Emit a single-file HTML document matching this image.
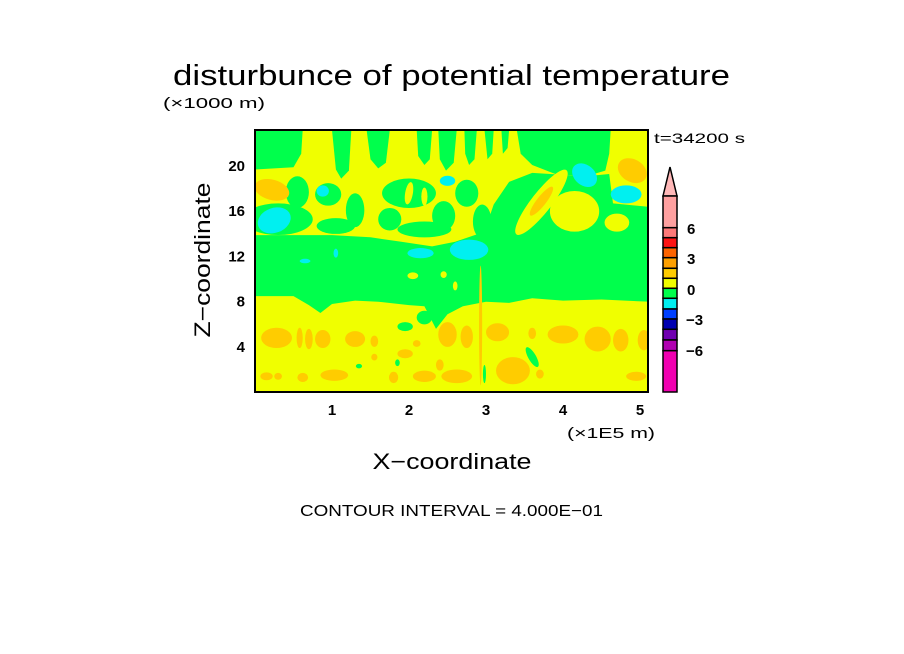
<!DOCTYPE html>
<html><head><meta charset="utf-8"><style>
html,body{margin:0;padding:0;background:#fff;width:904px;height:654px;overflow:hidden}
svg{display:block}
text{font-family:"Liberation Sans",sans-serif;fill:#000}
</style></head><body>
<svg id="chart" width="904" height="654" viewBox="0 0 904 654">
<text x="173" y="85" font-size="29" textLength="557" lengthAdjust="spacingAndGlyphs">disturbunce of potential temperature</text>
<text x="163" y="108" font-size="15" textLength="102" lengthAdjust="spacingAndGlyphs">(×1000 m)</text>
<text x="654" y="143" font-size="14" textLength="91" lengthAdjust="spacingAndGlyphs">t=34200 s</text>
<text transform="translate(210,260) rotate(-90)" text-anchor="middle" font-size="22" textLength="155" lengthAdjust="spacingAndGlyphs">Z−coordinate</text>
<text x="452" y="469" text-anchor="middle" font-size="22" textLength="159" lengthAdjust="spacingAndGlyphs">X−coordinate</text>
<text x="567" y="438" font-size="15" textLength="88" lengthAdjust="spacingAndGlyphs">(×1E5 m)</text>
<text x="300" y="516" font-size="16" textLength="303" lengthAdjust="spacingAndGlyphs">CONTOUR INTERVAL = 4.000E−01</text>
<defs><clipPath id="pc"><rect x="255" y="130" width="393" height="262"/></clipPath></defs>
<g id="field" clip-path="url(#pc)"></g>
<rect x="255" y="130" width="393" height="262" fill="none" stroke="#000" stroke-width="2"/>
<g id="ticks"></g>
<g id="cbar"></g>
</svg>
<script>
const xTicks=[1,2,3,4,5];
const zTicks=[4,8,12,16,20];
const cbarLabels=[6,3,0,-3,-6];
const cbarColors=["#ffa0a0","#ff7878","#ff1414","#ff6400","#ffa000","#ffcc00","#f0ff00","#00ff4c","#00f0f0","#0040ff","#0000b0","#7000b0","#b000b0","#f000b0"];
const C={y:"#f0ff00",g:"#00ff4c",o:"#ffcc00",c:"#00f0f0"};
const greenPolys=[
[[0,8.4],[0.5,8.4],[0.7,7.6],[0.85,6.9],[1.0,7.7],[1.3,8.0],[1.6,7.9],[2.0,7.6],[2.2,7.5],[2.35,5.5],[2.5,6.8],[2.7,7.5],[3.0,7.9],[3.3,7.8],[3.6,8.2],[4.0,8.0],[4.5,8.1],[5.11,7.9],[5.11,13.9],[2.9,13.9],[2.6,13.2],[2.3,12.8],[1.9,13.2],[1.5,13.6],[1.0,13.8],[0,13.8]],
[[0,23.1],[0.62,23.1],[0.6,21],[0.5,19.8],[0,19.6]],
[[1.0,23.1],[1.25,23.1],[1.22,19.5],[1.12,18.8],[1.05,19.6]],
[[1.45,23.1],[1.75,23.1],[1.7,20.2],[1.6,19.7],[1.5,20.5]],
[[2.1,23.1],[2.3,23.1],[2.27,20.5],[2.2,20],[2.12,20.8]],
[[2.38,23.1],[2.62,23.1],[2.58,20.2],[2.48,19.5],[2.4,20.5]],
[[2.72,23.1],[2.88,23.1],[2.85,20.5],[2.78,20.0],[2.73,21]],
[[2.98,23.1],[3.1,23.1],[3.08,21],[3.02,20.5]],
[[3.2,23.1],[3.3,23.1],[3.28,21.5],[3.22,21]],
[[3.4,23.1],[4.62,23.1],[4.6,21],[4.55,19.5],[4.3,19.0],[3.9,19.2],[3.6,20],[3.45,21]],
[[2.95,13.5],[5.11,13.5],[5.11,16.3],[4.65,16.6],[4.6,19.2],[4.3,19.0],[3.6,19.3],[3.3,18.5],[3.1,16.5]]
];
// blobs: [x, z, rx, rz, rotation, colour]
const blobs=[
[0.3,15.2,0.45,1.4,0,"g"],[0.55,17.6,0.15,1.4,0,"g"],[0.95,17.4,0.17,1.0,0,"g"],[1.3,16.0,0.12,1.5,0,"g"],
[2.0,17.5,0.35,1.3,0,"g"],[2.75,17.5,0.15,1.2,0,"g"],[2.45,15.5,0.15,1.3,0,"g"],[1.75,15.2,0.15,1.0,0,"g"],[2.95,15.0,0.12,1.5,0,"g"],
[1.05,14.6,0.25,0.7,0,"g"],[2.2,14.3,0.35,0.7,0,"g"],
[2.0,17.5,0.05,1.0,10,"y"],[2.2,17.2,0.04,0.8,0,"y"],
[3.72,16.7,0.13,3.6,38,"y"],[3.72,16.8,0.06,1.6,38,"o"],[4.15,15.9,0.32,1.8,0,"y"],[4.7,14.9,0.16,0.8,0,"y"],
[4.9,19.5,0.2,1.0,30,"o"],[4.82,17.4,0.2,0.8,0,"c"],[4.28,19.1,0.18,0.9,40,"c"],
[0.22,17.8,0.23,0.9,15,"o"],[0.25,15.1,0.22,1.1,-20,"c"],[0.88,17.7,0.08,0.5,0,"c"],
[2.15,12.2,0.17,0.45,0,"c"],[2.78,12.5,0.25,0.9,0,"c"],[2.5,18.6,0.1,0.45,0,"c"],[0.65,11.5,0.07,0.2,0,"c"],[1.05,12.2,0.03,0.4,0,"c"],
[2.05,10.2,0.07,0.3,0,"y"],[2.45,10.3,0.04,0.3,0,"y"],[2.6,9.3,0.03,0.4,0,"y"],
[0.28,4.7,0.2,0.9,0,"o"],[0.58,4.7,0.04,0.9,0,"o"],[0.7,4.6,0.05,0.9,0,"o"],[0.88,4.6,0.1,0.8,0,"o"],[1.3,4.6,0.13,0.7,0,"o"],[1.55,4.4,0.05,0.5,0,"o"],
[2.5,5.0,0.12,1.1,0,"o"],[2.75,4.8,0.08,1.0,0,"o"],[3.15,5.2,0.15,0.8,0,"o"],[3.6,5.1,0.05,0.5,0,"o"],[4.0,5.0,0.2,0.8,0,"o"],[4.45,4.6,0.17,1.1,0,"o"],[4.75,4.5,0.1,1.0,0,"o"],[5.05,4.5,0.08,0.9,0,"o"],
[1.95,3.3,0.1,0.4,0,"o"],[2.1,4.2,0.05,0.3,0,"o"],[1.55,3.0,0.04,0.3,0,"o"],
[0.15,1.3,0.08,0.35,0,"o"],[0.3,1.3,0.05,0.3,0,"o"],[0.62,1.2,0.07,0.4,0,"o"],[1.03,1.4,0.18,0.5,0,"o"],[1.8,1.2,0.06,0.5,0,"o"],[2.2,1.3,0.15,0.5,0,"o"],[2.62,1.3,0.2,0.6,0,"o"],[3.35,1.8,0.22,1.2,0,"o"],[3.7,1.5,0.05,0.4,0,"o"],[4.95,1.3,0.13,0.4,0,"o"],[2.4,2.3,0.05,0.5,0,"o"],
[2.93,5.8,0.02,5.3,0,"o"],
[1.95,5.7,0.1,0.4,0,"g"],[2.2,6.5,0.1,0.6,0,"g"],[3.6,3.0,0.05,1.0,-30,"g"],[1.85,2.5,0.03,0.3,0,"g"],[2.98,1.5,0.02,0.8,0,"g"],[1.35,2.2,0.04,0.2,0,"g"]
];
const X=x=>255+77*x, Z=z=>391-11.3*z;
const NS="http://www.w3.org/2000/svg";
const field=document.getElementById('field');
const bg=document.createElementNS(NS,'rect');
bg.setAttribute('x',255);bg.setAttribute('y',130);bg.setAttribute('width',393);bg.setAttribute('height',262);bg.setAttribute('fill',C.y);


field.appendChild(bg);
greenPolys.forEach(p=>{
  const e=document.createElementNS(NS,'polygon');
  e.setAttribute('points',p.map(q=>X(q[0]).toFixed(1)+','+Z(q[1]).toFixed(1)).join(' '));
  e.setAttribute('fill',C.g);
  
  
  field.appendChild(e);
});
blobs.forEach(b=>{
  const e=document.createElementNS(NS,'ellipse');
  const cx=X(b[0]),cy=Z(b[1]);
  e.setAttribute('cx',cx);e.setAttribute('cy',cy);
  e.setAttribute('rx',b[2]*77);e.setAttribute('ry',b[3]*11.3);
  e.setAttribute('transform','rotate('+b[4]+' '+cx+' '+cy+')');
  e.setAttribute('fill',C[b[5]]);
  
  
  field.appendChild(e);
});
const tg=document.getElementById('ticks');
xTicks.forEach(v=>{
  const t=document.createElementNS(NS,'text');
  t.setAttribute('x',X(v));t.setAttribute('y',415);t.setAttribute('text-anchor','middle');t.setAttribute('font-size','15');t.setAttribute('font-weight','bold');
  t.textContent=v;
  
  
  tg.appendChild(t);
});
zTicks.forEach(v=>{
  const t=document.createElementNS(NS,'text');
  t.setAttribute('x',245);t.setAttribute('y',Z(v)+6);t.setAttribute('text-anchor','end');t.setAttribute('font-size','15');t.setAttribute('font-weight','bold');
  t.textContent=v;
  
  
  tg.appendChild(t);
});
const cb=document.getElementById('cbar');
const bounds=[196,227.7,237.7,247.7,257.7,268.3,278.3,288.3,298.3,309,319,329.3,340,350.7,392];
const cbx=663,cbw=14;
const tri=document.createElementNS(NS,'polygon');
tri.setAttribute('points',cbx+','+196+' '+(cbx+cbw/2)+',167 '+(cbx+cbw)+',196');
tri.setAttribute('fill','#ffb8b8');tri.setAttribute('stroke','#000');tri.setAttribute('stroke-width','1.5');


cb.appendChild(tri);
cbarColors.forEach((c,i)=>{
  const r=document.createElementNS(NS,'rect');
  r.setAttribute('x',cbx);r.setAttribute('y',bounds[i]);r.setAttribute('width',cbw);r.setAttribute('height',bounds[i+1]-bounds[i]);
  r.setAttribute('fill',c);r.setAttribute('stroke','#000');r.setAttribute('stroke-width','1.5');
  
  
  cb.appendChild(r);
});
const labY=[228,258,289,319,350];
cbarLabels.forEach((v,i)=>{
  const t=document.createElementNS(NS,'text');
  t.setAttribute('x',v<0?686:687);t.setAttribute('y',labY[i]+6);t.setAttribute('font-size','15');t.setAttribute('font-weight','bold');
  t.textContent=v<0?'−'+(-v):String(v);
  
  
  cb.appendChild(t);
});
</script>
</body></html>
